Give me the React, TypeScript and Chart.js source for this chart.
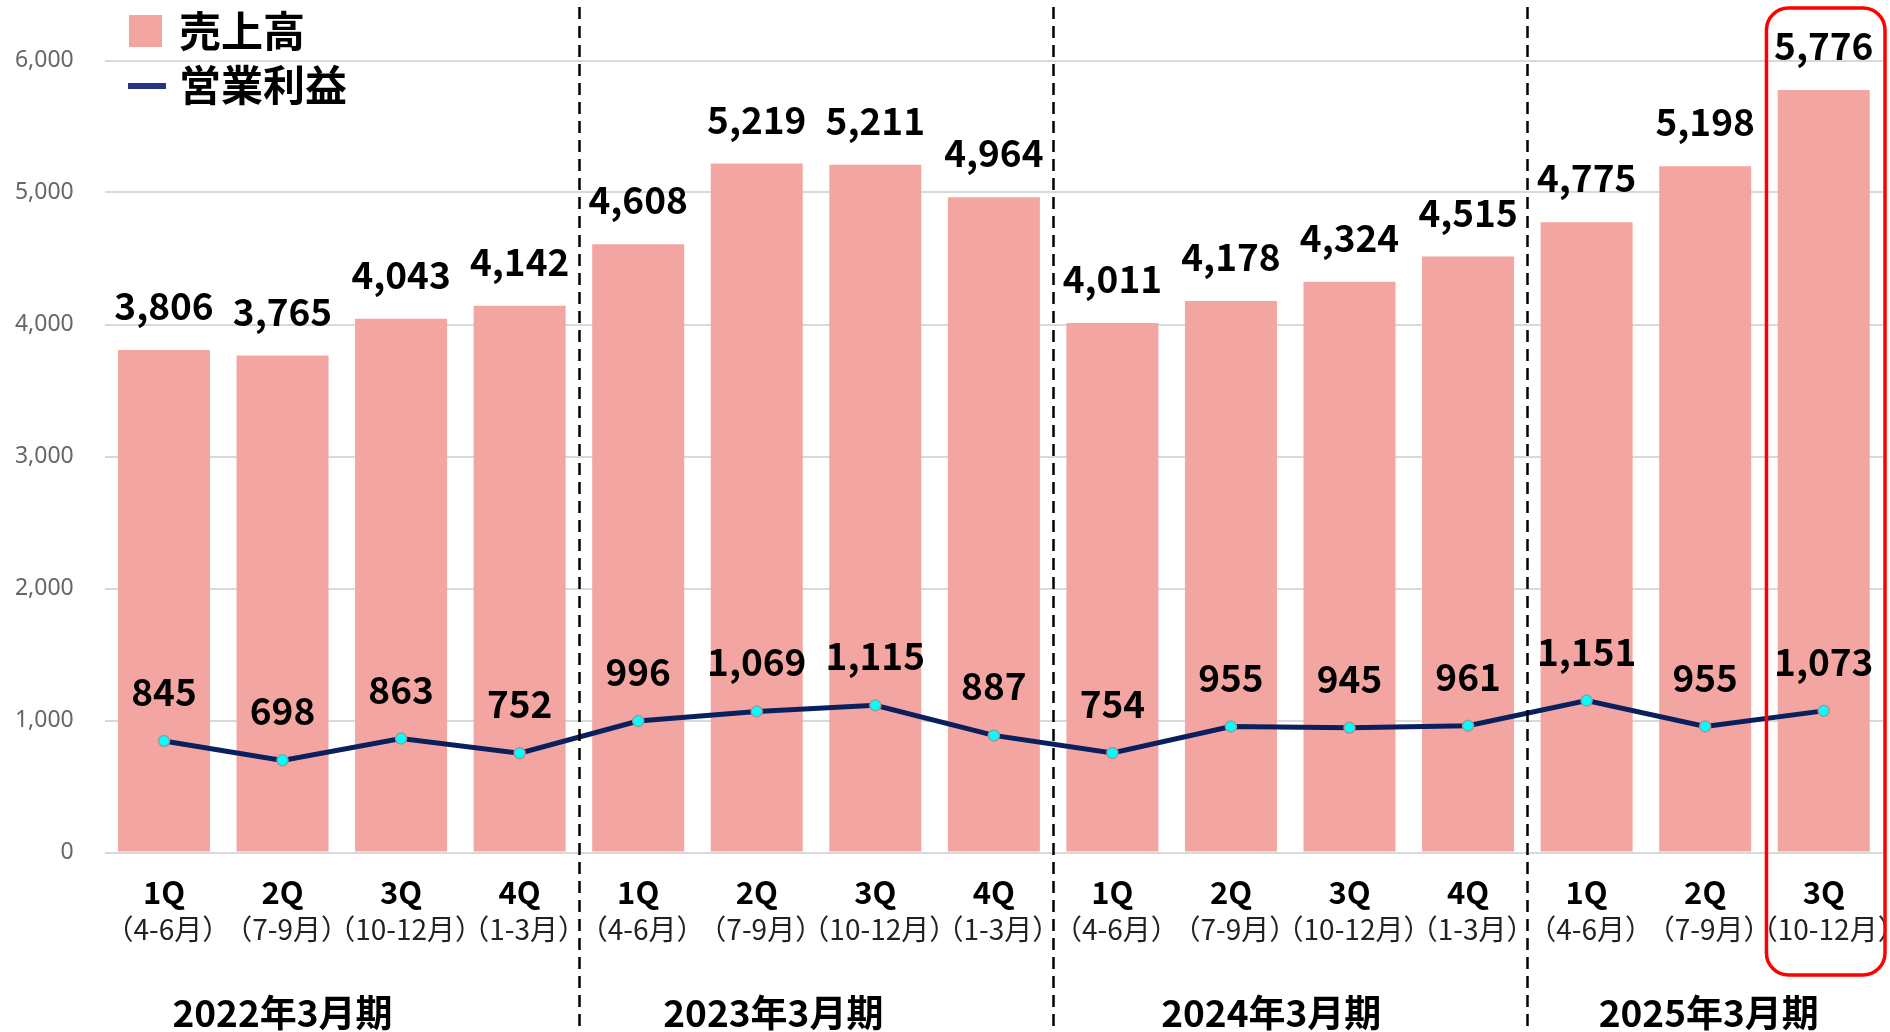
import React, { useEffect, useRef } from "react";
import { Chart, registerables } from "chart.js";

Chart.register(...registerables);

const quarterLabels = ["1Q", "2Q", "3Q", "4Q", "1Q", "2Q", "3Q", "4Q", "1Q", "2Q", "3Q", "4Q", "1Q", "2Q", "3Q"];
const monthLabels = [
  "（4-6月）", "（7-9月）", "（10-12月）", "（1-3月）",
  "（4-6月）", "（7-9月）", "（10-12月）", "（1-3月）",
  "（4-6月）", "（7-9月）", "（10-12月）", "（1-3月）",
  "（4-6月）", "（7-9月）", "（10-12月）",
];
const periodLabels = ["2022年3月期", "2023年3月期", "2024年3月期", "2025年3月期"];
const periodIndex = [0, 0, 0, 0, 1, 1, 1, 1, 2, 2, 2, 2, 3, 3, 3];
const periodLabelPos = [1, 5.14, 9.34, 13.03];
const separatorPos = [3.5, 7.5, 11.5];
const highlightIndex = 14;

const salesValues = [3806, 3765, 4043, 4142, 4608, 5219, 5211, 4964, 4011, 4178, 4324, 4515, 4775, 5198, 5776];
const profitValues = [845, 698, 863, 752, 996, 1069, 1115, 887, 754, 955, 945, 961, 1151, 955, 1073];

const yTicks = [0, 1000, 2000, 3000, 4000, 5000, 6000];

const salesName = "売上高";
const profitName = "営業利益";

const BAR_COLOR = "rgb(243,166,161)";
const LINE_COLOR = "#0a1f5e";
const LEGEND_LINE_COLOR = "#283583";
const FONT = "'Noto Sans CJK JP', 'Noto Sans', sans-serif";

const fmt = (v: number) => v.toLocaleString("en-US");

const decorPlugin = {
  id: "decor",
  afterDatasetsDraw(chart: any) {
    const ctx = chart.ctx;
    const xs = chart.scales.x;
    ctx.save();
    ctx.textAlign = "center";
    ctx.textBaseline = "middle";
    ctx.fillStyle = "#000";
    // bar labels
    const barMeta = chart.getDatasetMeta(0);
    ctx.font = `bold 37px ${FONT}`;
    barMeta.data.forEach((el: any, i: number) => {
      ctx.fillText(fmt(salesValues[i]), el.x, el.y - 44);
    });
    // line labels
    const lineMeta = chart.getDatasetMeta(1);
    lineMeta.data.forEach((el: any, i: number) => {
      ctx.fillText(fmt(profitValues[i]), el.x, el.y - 49);
    });
    // x labels
    quarterLabels.forEach((q, i) => {
      const x = xs.getPixelForValue(i);
      ctx.font = `bold 31px ${FONT}`;
      ctx.fillStyle = "#000";
      ctx.fillText(q, x, 892);
      ctx.font = `28px ${FONT}`;
      ctx.fillStyle = "#222";
      ctx.fillText(monthLabels[i], x + 4, 929);
    });
    // period labels
    ctx.font = `bold 37px ${FONT}`;
    ctx.fillStyle = "#000";
    periodLabels.forEach((p, i) => {
      ctx.fillText(p, xs.getPixelForValue(periodLabelPos[i]), 1013);
    });
    // separators
    ctx.strokeStyle = "#000";
    ctx.lineWidth = 2.5;
    ctx.setLineDash([12, 7]);
    separatorPos.forEach((s) => {
      const x = Math.round(xs.getPixelForValue(s)) + 0.5;
      ctx.beginPath();
      ctx.moveTo(x, 7);
      ctx.lineTo(x, 1032);
      ctx.stroke();
    });
    ctx.setLineDash([]);
    // highlight box
    const l = xs.getPixelForValue(highlightIndex - 0.5) + 2;
    const r = xs.getPixelForValue(highlightIndex + 0.5) + 2;
    ctx.strokeStyle = "#ff0000";
    ctx.lineWidth = 3.5;
    ctx.beginPath();
    ctx.roundRect(l, 8, r - l, 967, 22);
    ctx.stroke();
    // legend
    ctx.fillStyle = BAR_COLOR;
    ctx.fillRect(129, 15, 33, 32);
    ctx.fillStyle = LEGEND_LINE_COLOR;
    ctx.fillRect(128, 83, 38, 6);
    ctx.fillStyle = "#000";
    ctx.textAlign = "left";
    ctx.font = `bold 42px ${FONT}`;
    ctx.fillText(salesName, 179, 31);
    ctx.fillText(profitName, 179, 85);
    ctx.restore();
  },
};

export default function App() {
  const ref = useRef<HTMLCanvasElement | null>(null);
  useEffect(() => {
    document.body.style.margin = "0";
    const canvas = ref.current!;
    const chart = new Chart(canvas, {
      type: "bar",
      data: {
        labels: quarterLabels.map((q, i) => `${periodLabels[periodIndex[i]]} ${q}`),
        datasets: [
          {
            type: "bar",
            label: salesName,
            data: salesValues,
            backgroundColor: BAR_COLOR,
            barPercentage: 0.776,
            categoryPercentage: 1,
            order: 1,
          },
          {
            type: "line",
            label: profitName,
            data: profitValues,
            borderColor: LINE_COLOR,
            borderWidth: 5,
            pointRadius: 5.5,
            pointBackgroundColor: "#00ffff",
            pointBorderColor: "#9a9a9a",
            pointBorderWidth: 1.5,
            tension: 0,
            order: 0,
          } as any,
        ],
      },
      options: {
        responsive: false,
        devicePixelRatio: 1,
        animation: false,
        layout: { padding: { top: 60.5, right: 6, left: 0, bottom: 0 } },
        plugins: { legend: { display: false }, tooltip: { enabled: false } },
        scales: {
          x: {
            ticks: { display: false },
            grid: { display: false },
            border: { display: false },
            afterFit: (s: any) => {
              s.height = 179.5;
            },
          },
          y: {
            min: 0,
            max: 6000,
            afterBuildTicks: (s: any) => {
              s.ticks = yTicks.map((v) => ({ value: v }));
            },
            ticks: {
              padding: 31,
              color: "#666",
              font: { family: "'Noto Sans', sans-serif", size: 23 },
              callback: (v: any) => fmt(Number(v)),
            },
            grid: { color: "#d9d9d9", lineWidth: 2, drawTicks: false },
            border: { display: false },
            afterFit: (s: any) => {
              s.width = 104.7;
            },
          },
        },
      },
      plugins: [decorPlugin],
    });
    return () => chart.destroy();
  }, []);
  return <canvas ref={ref} width={1890} height={1032} style={{ display: "block" }} />;
}
